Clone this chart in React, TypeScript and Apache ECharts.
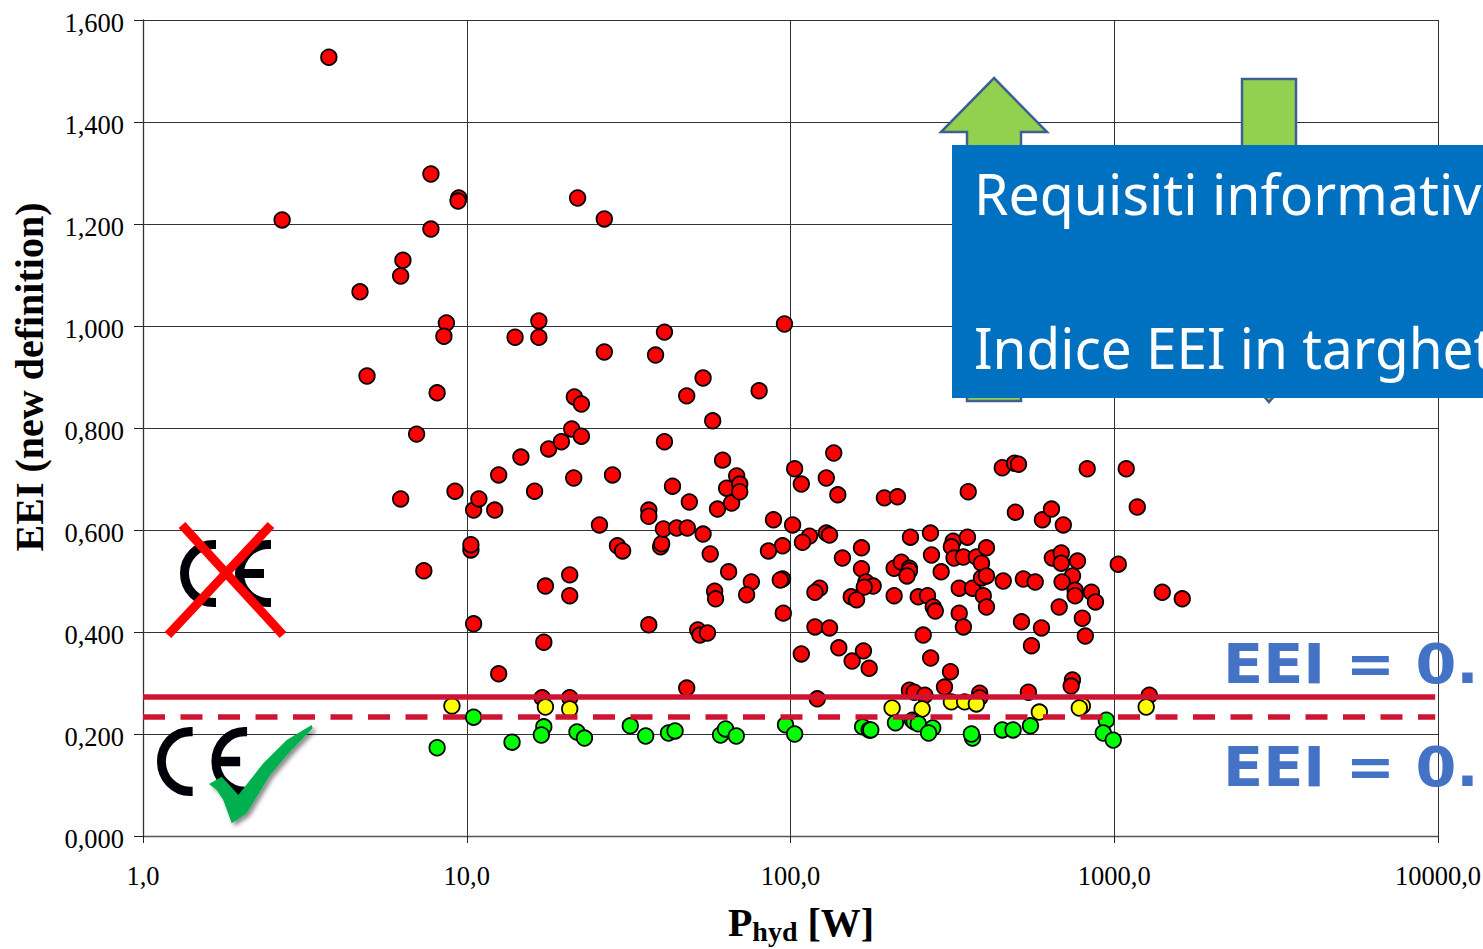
import React, { useEffect, useRef } from "react";
import * as echarts from "echarts";

const xTickLabels: Record<string, string> = { "1": "1,0", "10": "10,0", "100": "100,0", "1000": "1000,0", "10000": "10000,0" };
const limitSolid = 0.2725;
const limitDashed = 0.2335;
const limitSpan = [1, 9800];

const redPoints: number[][] = [
  [3.75,1.527],[2.69,1.208],[7.75,1.19],[7.75,1.298],[9.45,1.251],[9.4,1.245],[6.35,1.129],[6.25,1.098],[4.68,1.067],[4.92,0.902],
  [8.65,1.006],[8.5,0.98],[8.1,0.869],[7.0,0.788],[6.25,0.661],[9.2,0.676],[7.37,0.52],[10.5,0.416],[10.3,0.561],[10.3,0.571],
  [10.5,0.639],[10.9,0.661],[12.2,0.639],[12.55,0.708],[14.7,0.743],[14.1,0.978],[16.7,1.01],[16.7,0.978],[22.0,1.251],[26.6,1.21],
  [26.6,0.949],[38.3,0.943],[40.8,0.988],[16.2,0.676],[17.9,0.759],[19.6,0.773],[21.1,0.798],[21.5,0.861],[22.6,0.847],[22.6,0.784],
  [21.4,0.702],[28.2,0.708],[20.8,0.512],[20.8,0.471],[17.5,0.49],[25.7,0.61],[29.2,0.569],[30.3,0.559],[36.5,0.639],[36.5,0.627],
  [36.5,0.414],[39.7,0.567],[40.0,0.573],[40.5,0.602],[40.8,0.773],[43.2,0.686],[44.5,0.604],[48,0.604],[48.7,0.655],[53.7,0.592],
  [56.5,0.553],[58.3,0.48],[58.7,0.465],[59.5,0.641],[61.7,0.737],[63.5,0.682],[65.8,0.653],[68.2,0.706],[69.7,0.69],[69.7,0.675],
  [64.4,0.518],[75.7,0.498],[73.2,0.473],[47.8,0.863],[53.7,0.898],[57.5,0.814],[80,0.873],[95.8,1.004],[51.7,0.404],[52.5,0.394],
  [55.4,0.398],[47.8,0.29],[12.55,0.318],[17.3,0.38],[17.1,0.271],[20.8,0.271],
  [101.5,0.61],[114.5,0.588],[108.9,0.576],[129,0.594],[132,0.59],[234.7,0.586],[270.6,0.594],[318,0.578],[314,0.567],[352,0.586],
  [165.7,0.565],[144.7,0.545],[94.5,0.569],[272.6,0.551],[320,0.545],[342,0.547],[375,0.547],[403,0.565],[389,0.535],[165.7,0.524],
  [209,0.525],[220,0.537],[233,0.525],[233,0.52],[229,0.51],[292,0.518],[94.5,0.504],[171,0.498],[180,0.49],[169,0.488],
  [123,0.486],[119,0.478],[154,0.469],[160,0.463],[209,0.471],[248,0.469],[265,0.471],[276,0.449],[280,0.441],[332,0.486],
  [365,0.486],[389,0.506],[403,0.51],[394,0.471],[403,0.449],[332,0.437],[342,0.41],[454,0.5],[524,0.504],[570,0.498],
  [495,0.635],[600,0.62],[640,0.641],[696,0.61],[1178,0.645],[644,0.545],[686,0.555],[686,0.535],[770,0.539],[743,0.51],
  [690,0.498],[757,0.482],[757,0.471],[850,0.478],[875,0.459],[676,0.449],[797,0.427],[814,0.392],[517,0.42],[596,0.408],
  [555,0.373],[1029,0.533],[1407,0.478],[1622,0.465],[119,0.41],[132,0.408],[257,0.394],[108,0.357],[141,0.369],[155,0.343],
  [168,0.363],[175,0.329],[271,0.349],[312,0.322],[299,0.292],[233,0.286],[241,0.282],[260,0.276],[121,0.269],[384,0.28],
  [384,0.271],[543,0.282],[743,0.306],[736,0.294],[1283,0.276],
  [103,0.72],[108,0.69],[129,0.702],[136,0.751],[140,0.669],[195,0.663],[214,0.665],[354,0.675],[451,0.722],[492,0.731],
  [506,0.729],[825,0.72],[1089,0.72],[88.6,0.62],[85.5,0.559],[93,0.502],[95,0.437],
];

const yellowPoints: number[][] = [
  [9.0,0.255],[17.5,0.253],[20.8,0.249],[206,0.251],[255,0.249],[314,0.263],[345,0.263],[375,0.259],[587,0.243],[797,0.255],[780,0.251],[1255,0.253],
];

const greenPoints: number[][] = [
  [8.1,0.173],[10.5,0.233],[13.8,0.184],[17.3,0.214],[17.0,0.198],[21.9,0.204],[23.1,0.192],[32,0.216],[35.7,0.196],[42,0.202],
  [44,0.206],[60.8,0.198],[63,0.21],[68,0.196],[96.5,0.218],[103,0.2],[167,0.214],[175,0.208],[177,0.208],[211,0.222],
  [238,0.227],[241,0.224],[248,0.22],[275,0.212],[267,0.202],[365,0.192],[362,0.2],[451,0.208],[487,0.208],[551,0.216],
  [945,0.227],[925,0.202],[993,0.188],
];

const boxLines = ["Requisiti informativi", "Indice EEI in targhetta"];
const limitLabels = ["EEI = 0.27", "EEI = 0.23"];

const cePath = "M36 4.5 H33.5 A29 29 0 0 0 33.5 62.5 H36 M91 4.5 H88.5 A29 29 0 0 0 88.5 62.5 H91 M60 33.5 H84";
echarts.graphic.registerShape("ceMark", echarts.graphic.extendPath(cePath, {}) as any);

const dot = (name: string, data: number[][], color: string, z: number) => ({
  name,
  type: "scatter",
  data,
  z,
  symbol: "circle",
  symbolSize: 15.5,
  itemStyle: { color, borderColor: "#000", borderWidth: 1.8, opacity: 1 },
});

const limitLine = (value: number, type: any, z: number) => ({
  type: "line",
  data: limitSpan.map((x) => [x, value]),
  symbol: "none",
  z,
  lineStyle: { color: "#CE1432", width: 5.5, type, cap: "butt" },
});

export default function App() {
  const ref = useRef<HTMLDivElement>(null);
  useEffect(() => {
    const chart = echarts.init(ref.current!, null, { renderer: "svg" });
    const serif = "'Liberation Serif', serif";
    const arrowStyle = { fill: "#92D050", stroke: "#3F5F92", lineWidth: 2.5 };
    const ceStyle = { fill: "none", stroke: "#000008", lineWidth: 9 };
    chart.setOption({
      animation: false,
      backgroundColor: "#fff",
      grid: { left: 143, right: 45, top: 20, height: 816, containLabel: false, outerBoundsMode: "none" },
      xAxis: {
        type: "log",
        logBase: 10,
        min: 1,
        max: 10000,
        name: "{a|P}{b|hyd}{a| [W]}",
        nameLocation: "middle",
        nameGap: 63,
        nameMoveOverlap: false,
        nameTextStyle: {
          padding: [0, 0, 0, 21],
          rich: {
            a: { fontFamily: serif, fontWeight: "bold", fontSize: 40, color: "#000", height: 44 },
            b: { fontFamily: serif, fontWeight: "bold", fontSize: 28, color: "#000", padding: [18, 0, 0, 0] },
          },
        },
        axisLine: { onZero: false, lineStyle: { color: "#555", width: 1.3 } },
        axisTick: { length: 7, lineStyle: { color: "#222" } },
        minorTick: { show: false },
        minorSplitLine: { show: false },
        splitLine: { show: true, lineStyle: { color: "#333", width: 1 } },
        axisLabel: {
          fontFamily: serif,
          fontSize: 26.5,
          color: "#000",
          margin: 26,
          hideOverlap: false,
          formatter: (v: number) => xTickLabels[String(Math.round(v))] ?? "",
        },
      },
      yAxis: {
        type: "value",
        min: 0,
        max: 1.6,
        interval: 0.2,
        name: "EEI (new definition)",
        nameLocation: "middle",
        nameGap: 94,
        nameRotate: 90,
        nameMoveOverlap: false,
        nameTextStyle: { fontFamily: serif, fontWeight: "bold", fontSize: 40, color: "#000", padding: [0, 0, 0, 102] },
        axisLine: { show: true, onZero: false, lineStyle: { color: "#333", width: 1.3 } },
        axisTick: { show: true, length: 9, lineStyle: { color: "#222" } },
        splitLine: { show: true, lineStyle: { color: "#333", width: 1 } },
        axisLabel: {
          margin: 19,
          formatter: (v: number) => `{v|${v.toFixed(3).replace(".", ",")}}`,
          rich: { v: { fontFamily: serif, fontSize: 26.5, color: "#000", padding: [6, 0, 0, 0] } },
        },
      },
      series: [
        dot("red", redPoints, "#FF0000", 3),
        dot("yellow", yellowPoints, "#FFFF00", 4),
        dot("green", greenPoints, "#00FF00", 5),
        limitLine(limitSolid, "solid", 6),
        limitLine(limitDashed, [22, 15.5], 6),
      ],
      graphic: [
        { type: "polygon", z: 20, shape: { points: [[994, 78], [1047, 132], [1021, 132], [1021, 401], [967, 401], [967, 132], [941, 132]] }, style: arrowStyle },
        { type: "polygon", z: 20, shape: { points: [[1242, 79], [1296, 79], [1296, 340], [1323, 340], [1269, 402], [1215, 340], [1242, 340]] }, style: arrowStyle },
        { type: "rect", z: 30, shape: { x: 952, y: 145, width: 531, height: 253 }, style: { fill: "#0070C0" } },
        { type: "text", z: 31, x: 974, y: 193, scaleX: 0.99, style: { text: boxLines[0], fill: "#fff", font: "56px 'Noto Sans'", verticalAlign: "middle" } },
        { type: "text", z: 31, x: 974, y: 347, scaleX: 0.98, style: { text: boxLines[1], fill: "#fff", font: "56px 'Noto Sans'", verticalAlign: "middle" } },
        { type: "text", z: 25, x: 1223, y: 664, scaleX: 1.05, style: { text: limitLabels[0], fill: "#4472C4", font: "bold 56px 'DejaVu Sans'", verticalAlign: "middle" } },
        { type: "text", z: 25, x: 1223, y: 767, scaleX: 1.05, style: { text: limitLabels[1], fill: "#4472C4", font: "bold 56px 'DejaVu Sans'", verticalAlign: "middle" } },
        { type: "ceMark", z: 21, x: 180, y: 540, style: ceStyle },
        { type: "line", z: 22, shape: { x1: 182, y1: 525, x2: 283, y2: 635 }, style: { stroke: "#FF0000", lineWidth: 9 } },
        { type: "line", z: 22, shape: { x1: 271, y1: 525, x2: 168, y2: 635 }, style: { stroke: "#FF0000", lineWidth: 9 } },
        { type: "ceMark", z: 21, x: 157, y: 727, scaleX: 0.99, scaleY: 1.03, style: ceStyle },
        {
          type: "polygon",
          z: 22,
          shape: { points: [[209, 784], [221.7, 776.7], [238.3, 795], [263.3, 763.3], [286.7, 740], [311.7, 725], [312.7, 728.3], [290, 751.7], [270, 775], [246.7, 813.3], [231.7, 823.3], [223.3, 800], [216.7, 790]] },
          style: { fill: "#00B050", shadowBlur: 4, shadowOffsetX: 3, shadowOffsetY: 3, shadowColor: "rgba(0,0,0,0.45)" },
        },
      ],
    });
    return () => chart.dispose();
  }, []);
  return <div ref={ref} style={{ position: "fixed", left: 0, top: 0, width: 1483, height: 949 }} />;
}
